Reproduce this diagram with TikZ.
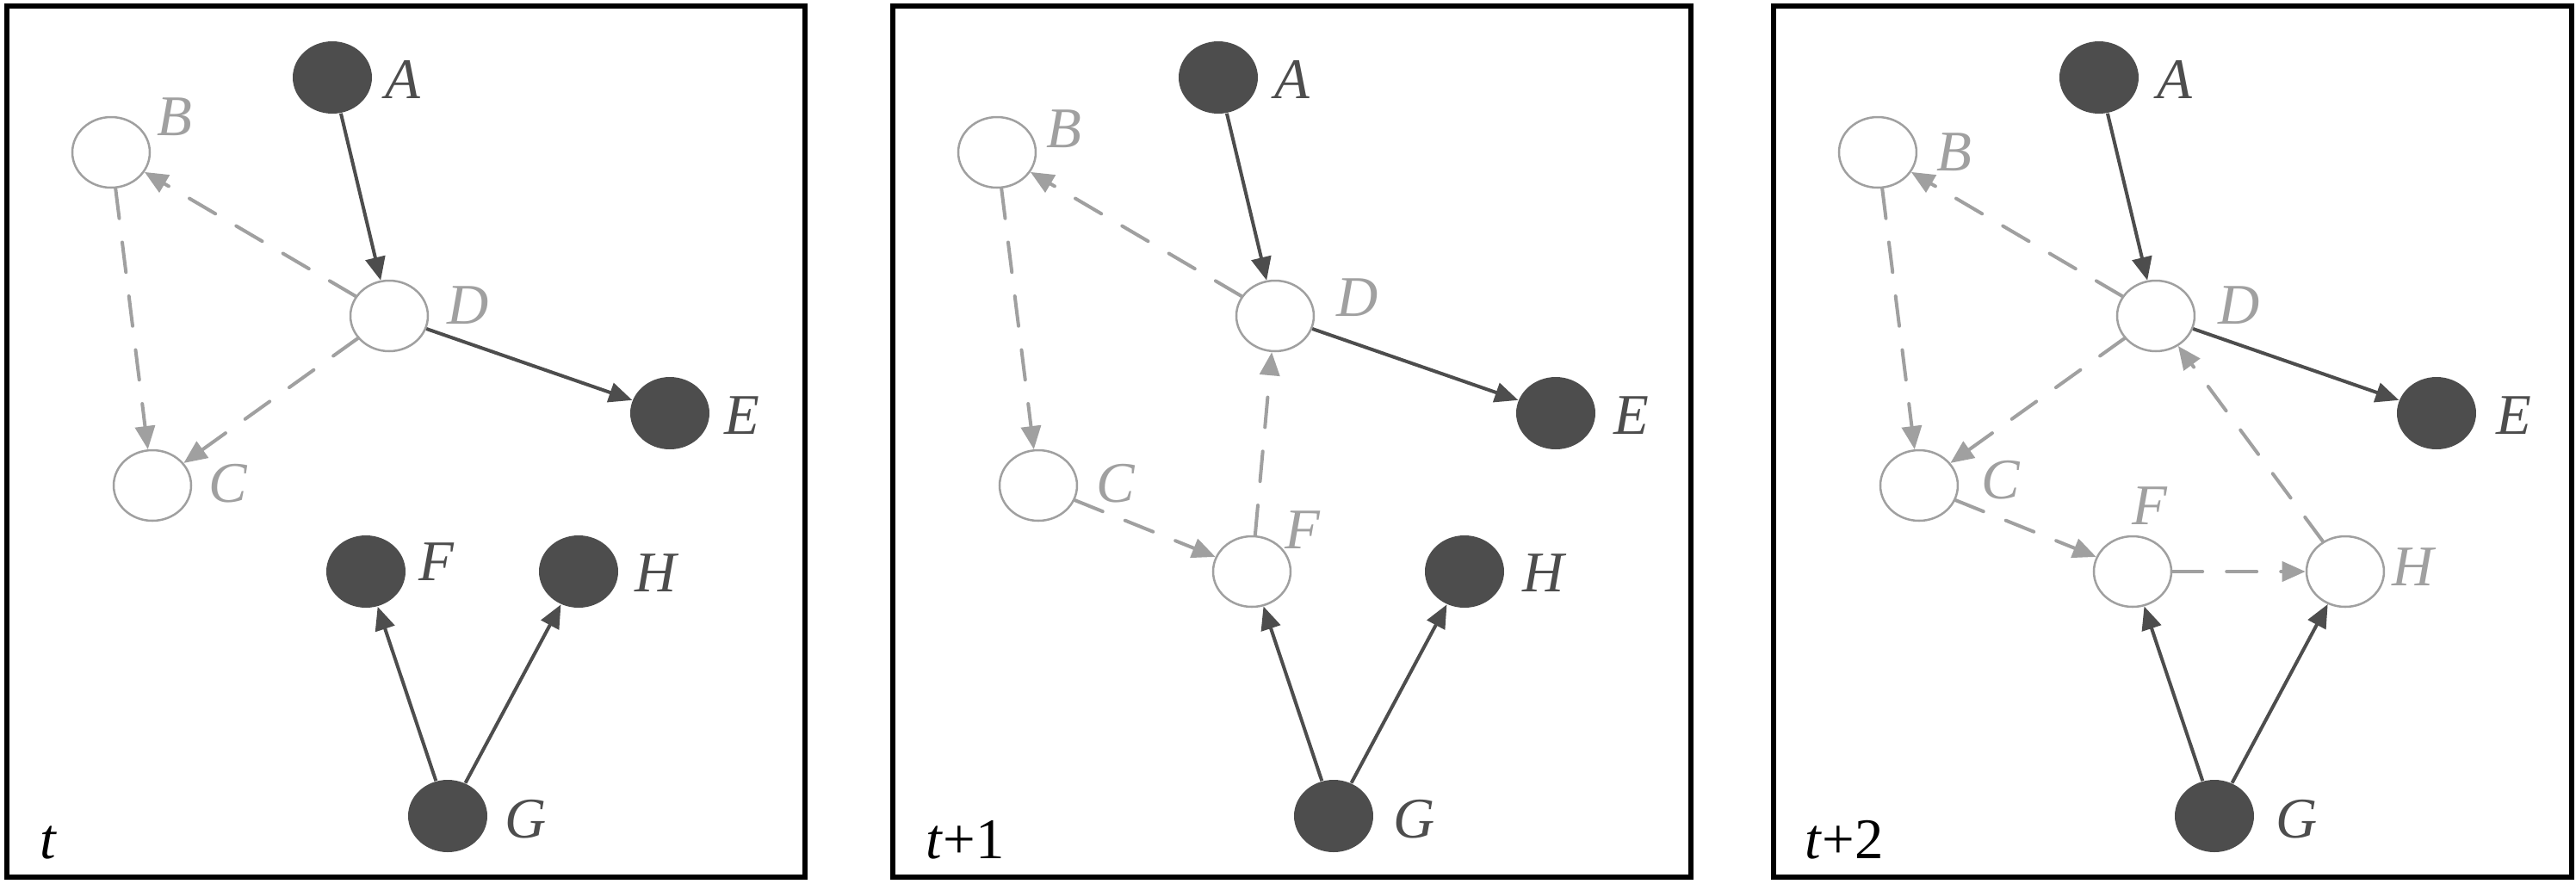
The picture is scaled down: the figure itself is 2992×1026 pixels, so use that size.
\documentclass[tikz,border=0pt]{standalone}
\usepackage{fontspec}
\setmainfont{Liberation Serif}
\usetikzlibrary{shapes.geometric, arrows.meta}

\definecolor{nodedark}{RGB}{77,77,77}
\definecolor{nodelight}{RGB}{160,160,160}

\tikzset{
    obs/.style={ellipse, fill=nodedark, inner sep=0pt, minimum width=9.2mm, minimum height=8.4mm},
    hid/.style={ellipse, draw=nodelight, fill=white, line width=0.25mm, inner sep=0pt, minimum width=9.0mm, minimum height=8.2mm},
    link/.style={-{Triangle[length=2.7mm, width=2.3mm]}, draw=nodedark, line width=0.4mm},
    weak/.style={-{Triangle[length=2.7mm, width=2.3mm]}, draw=nodelight, line width=0.4mm, line cap=round, dash pattern=on 3.5mm off 2.8mm},
    lbl/.style={font=\fontsize{19}{22}\selectfont\itshape, text=nodedark, inner sep=0pt},
    lbllight/.style={lbl, text=nodelight},
    frame/.style={draw=black, line width=0.6mm},
    stamp/.style={font=\fontsize{19}{22}\selectfont, anchor=base west, inner sep=0pt}
}

\begin{document}
\begin{tikzpicture}[x=0.1mm, y=-0.1mm]
    \useasboundingbox (0,0) rectangle (2992,1026);

    % Panel t
    \draw[frame] (8,7) rectangle (935,1019);
    \node[stamp] (t1) at (46,997) {\textit{t}};

    \node[obs] (A1) at (386,90) {};
    \node[hid] (B1) at (129,177) {};
    \node[hid] (C1) at (177,564) {};
    \node[hid] (D1) at (452,367) {};
    \node[obs] (E1) at (778,480) {};
    \node[obs] (F1) at (425,664) {};
    \node[obs] (H1) at (672,664) {};
    \node[obs] (G1) at (520,948) {};

    \draw[link] (A1) -- (D1);
    \draw[link] (D1) -- (E1);
    \draw[weak] (D1) -- (B1);
    \draw[weak] (B1) -- (C1);
    \draw[weak] (D1) -- (C1);
    \draw[link] (G1) -- (F1);
    \draw[link] (G1) -- (H1);

    \node[lbl] (lA1) at (468,92) {A};
    \node[lbllight] (lB1) at (203,136) {B};
    \node[lbllight] (lC1) at (265,562) {C};
    \node[lbllight] (lD1) at (544,355) {D};
    \node[lbl] (lE1) at (862,483) {E};
    \node[lbl] (lF1) at (507,653) {F};
    \node[lbl] (lH1) at (762,666) {H};
    \node[lbl] (lG1) at (611,952) {G};

    % Panel t+1
    \begin{scope}[xshift=102.9mm]
    \draw[frame] (8,7) rectangle (935,1019);
    \node[stamp] (t2) at (46,997) {\textit{t}+1};

    \node[obs] (A2) at (386,90) {};
    \node[hid] (B2) at (129,177) {};
    \node[hid] (C2) at (177,564) {};
    \node[hid] (D2) at (452,367) {};
    \node[obs] (E2) at (778,480) {};
    \node[hid] (F2) at (425,664) {};
    \node[obs] (H2) at (672,664) {};
    \node[obs] (G2) at (520,948) {};

    \draw[link] (A2) -- (D2);
    \draw[link] (D2) -- (E2);
    \draw[weak] (D2) -- (B2);
    \draw[weak] (B2) -- (C2);
    \draw[weak] (C2) -- (F2);
    \draw[weak] (F2) -- (D2);
    \draw[link] (G2) -- (F2);
    \draw[link] (G2) -- (H2);

    \node[lbl] (lA2) at (472,92) {A};
    \node[lbllight] (lB2) at (207,150) {B};
    \node[lbllight] (lC2) at (267,562) {C};
    \node[lbllight] (lD2) at (548,346) {D};
    \node[lbl] (lE2) at (866,483) {E};
    \node[lbllight] (lF2) at (484,616) {F};
    \node[lbl] (lH2) at (764,666) {H};
    \node[lbl] (lG2) at (614,952) {G};
    \end{scope}

    % Panel t+2
    \begin{scope}[xshift=205.2mm]
    \draw[frame] (8,7) rectangle (935,1019);
    \node[stamp] (t3) at (44,997) {\textit{t}+2};

    \node[obs] (A3) at (386,90) {};
    \node[hid] (B3) at (129,177) {};
    \node[hid] (C3) at (177,564) {};
    \node[hid] (D3) at (452,367) {};
    \node[obs] (E3) at (778,480) {};
    \node[hid] (F3) at (425,664) {};
    \node[hid] (H3) at (672,664) {};
    \node[obs] (G3) at (520,948) {};

    \draw[link] (A3) -- (D3);
    \draw[link] (D3) -- (E3);
    \draw[weak] (D3) -- (B3);
    \draw[weak] (B3) -- (C3);
    \draw[weak] (D3) -- (C3);
    \draw[weak] (C3) -- (F3);
    \draw[weak] (F3) -- (H3);
    \draw[weak] (H3) -- (D3);
    \draw[link] (G3) -- (F3);
    \draw[link] (G3) -- (H3);

    \node[lbl] (lA3) at (474,92) {A};
    \node[lbllight] (lB3) at (218,177) {B};
    \node[lbllight] (lC3) at (272,558) {C};
    \node[lbllight] (lD3) at (549,355) {D};
    \node[lbl] (lE3) at (868,483) {E};
    \node[lbllight] (lF3) at (445,588) {F};
    \node[lbllight] (lH3) at (751,659) {H};
    \node[lbl] (lG3) at (616,952) {G};
    \end{scope}
\end{tikzpicture}
\end{document}
